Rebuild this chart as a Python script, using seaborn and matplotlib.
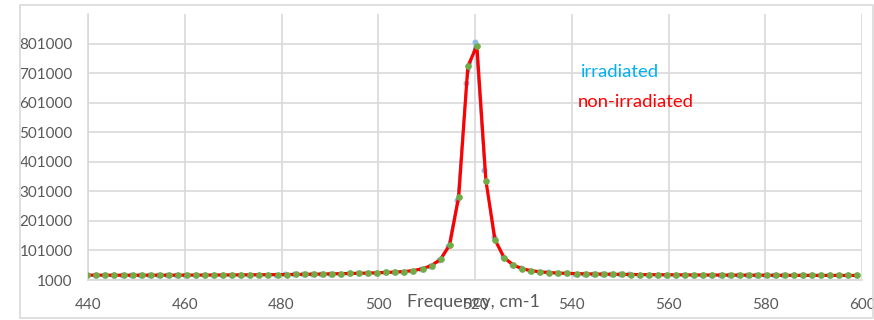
import matplotlib
matplotlib.use("Agg")
import matplotlib.pyplot as plt
from matplotlib.patches import Rectangle
import seaborn as sns
import numpy as np
import pandas as pd

# Raman spectra
freq = [439.85, 441.72, 443.60, 445.47, 447.34, 449.22, 451.09, 452.96, 454.83, 456.71,
        458.58, 460.45, 462.33, 464.20, 466.07, 467.95, 469.82, 471.69, 473.56, 475.44,
        477.31, 479.18, 481.06, 482.93, 484.80, 486.68, 488.55, 490.42, 492.29, 494.17,
        496.04, 497.91, 499.79, 501.66, 503.53, 505.41, 507.28, 509.15, 511.02, 512.90,
        514.77, 516.64, 518.52, 520.39, 522.26, 524.14, 526.01, 527.88, 529.75, 531.63,
        533.50, 535.37, 537.25, 539.12, 540.99, 542.87, 544.74, 546.61, 548.48, 550.36,
        552.23, 554.10, 555.98, 557.85, 559.72, 561.60, 563.47, 565.34, 567.21, 569.09,
        570.96, 572.83, 574.71, 576.58, 578.45, 580.33, 582.20, 584.07, 585.94, 587.82,
        589.69, 591.56, 593.44, 595.31, 597.18, 599.06]

non_irradiated = [17500, 17400, 17300, 17300, 17200, 17200, 17200, 17200, 17300, 17300,
                  17400, 17500, 17600, 17700, 17800, 18000, 18100, 18300, 18500, 18700,
                  18900, 19200, 19500, 19800, 20200, 20700, 21200, 21800, 22400, 23000,
                  23700, 24500, 25400, 26500, 27800, 29500, 33000, 39000, 50000, 71000,
                  120000, 283000, 724000, 794000, 337000, 137000, 77000, 52000, 39000, 32500,
                  28500, 26000, 24500, 23300, 22500, 21800, 21200, 20700, 20300, 19900,
                  19600, 19300, 19000, 18800, 18600, 18400, 18200, 18000, 17900, 17800,
                  17600, 17500, 17400, 17300, 17200, 17100, 17000, 16900, 16800, 16700,
                  16700, 16600, 16500, 16500, 16400, 16400]

irradiated_freq = [f - 0.3 for f in freq]
irradiated = [17800, 17700, 17600, 17500, 17500, 17400, 17400, 17400, 17500, 17500,
              17600, 17700, 17800, 17900, 18000, 18200, 18300, 18500, 18700, 18900,
              19100, 19400, 19700, 20000, 20400, 20900, 21400, 22000, 22600, 23200,
              23900, 24700, 25600, 26700, 28000, 29700, 33000, 38500, 49000, 69000,
              115000, 270000, 668000, 805000, 373000, 146000, 80000, 53000, 40000, 33000,
              29000, 26400, 24800, 23600, 22800, 22100, 21500, 21000, 20600, 20200,
              19900, 19600, 19300, 19100, 18900, 18700, 18500, 18300, 18200, 18100,
              17900, 17800, 17700, 17600, 17500, 17400, 17300, 17200, 17100, 17000,
              17000, 16900, 16800, 16800, 16700, 16700]

x_ticks = [440, 460, 480, 500, 520, 540, 560, 580, 600]
y_ticks = [1000, 101000, 201000, 301000, 401000, 501000, 601000, 701000, 801000]

sns.set_style("white")
plt.rcParams['font.family'] = ['Lato', 'DejaVu Sans']

fig = plt.figure(figsize=(8.74, 3.2), dpi=100)
ax = fig.add_axes([88 / 874, 1 - 280 / 320, 774 / 874, 266 / 320])

grid_c = "#D9D9D9"
text_c = "#595959"

sns.lineplot(x=irradiated_freq, y=irradiated, ax=ax, color="#5B9BD5", linewidth=1.3,
             marker="o", markersize=3.5, markerfacecolor="#8DB8E6", markeredgecolor="#8DB8E6",
             sort=False, zorder=3)
sns.lineplot(x=freq, y=non_irradiated, ax=ax, color="#FF0000", linewidth=2.3,
             marker="o", markersize=4, markerfacecolor="#70AD47", markeredgecolor="#70AD47",
             sort=False, zorder=4)

ax.set_xlim(440, 600)
ax.set_ylim(1000, 901000)
ax.set_xticks(x_ticks)
ax.set_yticks(y_ticks)
ax.set_xticklabels([str(t) for t in x_ticks])
ax.set_yticklabels([str(t) for t in y_ticks])
ax.grid(True, color=grid_c, linewidth=1.2, zorder=0)
ax.set_axisbelow(True)
for s in ["top", "right"]:
    ax.spines[s].set_visible(False)
for s in ["left", "bottom"]:
    ax.spines[s].set_color(grid_c)
    ax.spines[s].set_linewidth(1.2)
ax.tick_params(axis="both", length=0, labelsize=11, colors=text_c)
ax.tick_params(axis="x", pad=13)
ax.tick_params(axis="y", pad=11)

ax.set_xlabel("Frequency, cm-1", fontsize=13, color=text_c)
ax.xaxis.set_label_coords((473 - 88) / 774, -0.083)
ax.xaxis.label.set_va("center")
ax.set_ylabel("")

ax.text((581 - 88) / 774, (280 - 72) / 266, "irradiated", color="#00B0F0",
        fontsize=13.3, va="center", ha="left", transform=ax.transAxes)
ax.text((578 - 88) / 774, (280 - 102) / 266, "non-irradiated", color="#FF0000",
        fontsize=13.3, va="center", ha="left", transform=ax.transAxes)

fig.patches.append(Rectangle((20 / 874, 2 / 320), 853 / 874, 313 / 320,
                             transform=fig.transFigure, fill=False,
                             edgecolor=grid_c, linewidth=1.2))

fig.savefig("out.png", dpi=100)
